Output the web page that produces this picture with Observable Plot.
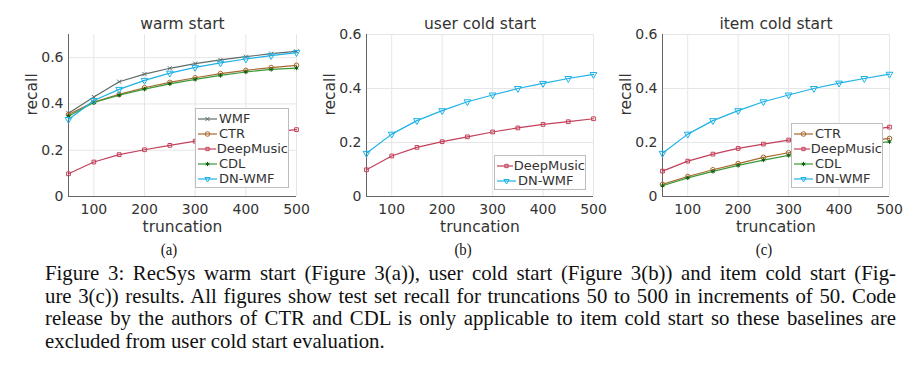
<!DOCTYPE html>
<html><head><meta charset="utf-8">
<script src="https://cdn.jsdelivr.net/npm/d3@7"></script>
<script src="https://cdn.jsdelivr.net/npm/@observablehq/plot@0.6"></script>
<style>
body{margin:0;background:#fff;}
#root{position:relative;width:923px;height:367px;overflow:hidden;background:#fff;}
.panel{position:absolute;top:0;}
.panel svg{overflow:visible;}
.legend{position:absolute;background:#fff;border:1px solid #bdbdbd;box-sizing:border-box;font-family:"DejaVu Sans",sans-serif;font-size:13px;color:#333;padding-top:2px;}
.legend .row{display:flex;align-items:center;height:15px;white-space:nowrap;}
.legend svg{margin-left:1px;margin-right:1px;}
.sub{position:absolute;font-family:"Liberation Serif",serif;font-size:16px;color:#111;transform:translateX(-50%) scaleX(0.92);line-height:14px;}
.cap{position:absolute;left:45px;top:262px;font-family:"Liberation Serif",serif;font-size:21.5px;line-height:22.5px;color:#111;transform-origin:0 0;}
.cap div{text-align:justify;}
.cap div.j{text-align-last:justify;}
</style>
</head><body>
<div id="root"></div>
<script>
const truncation = [50,100,150,200,250,300,350,400,450,500];
const xTicks = [100,200,300,400,500];
const yTicks = [0,0.2,0.4,0.6];

// warm start
const warmWMF       = [0.360,0.430,0.496,0.529,0.554,0.574,0.590,0.604,0.617,0.627];
const warmCTR       = [0.354,0.408,0.441,0.470,0.493,0.513,0.531,0.545,0.557,0.567];
const warmDeepMusic = [0.098,0.149,0.181,0.202,0.221,0.239,0.254,0.267,0.279,0.289];
const warmCDL       = [0.347,0.406,0.438,0.464,0.487,0.506,0.523,0.538,0.549,0.555];
const warmDNWMF     = [0.333,0.415,0.463,0.502,0.533,0.558,0.577,0.594,0.609,0.622];
// user cold start
const userDeepMusic = [0.099,0.150,0.182,0.203,0.221,0.239,0.254,0.267,0.277,0.288];
const userDNWMF     = [0.160,0.231,0.281,0.318,0.351,0.376,0.400,0.419,0.437,0.452];
// item cold start
const itemCTR       = [0.045,0.074,0.099,0.122,0.145,0.162,0.178,0.192,0.203,0.215];
const itemDeepMusic = [0.094,0.131,0.157,0.178,0.194,0.209,0.222,0.234,0.245,0.257];
const itemCDL       = [0.040,0.069,0.093,0.115,0.135,0.152,0.167,0.180,0.191,0.203];
const itemDNWMF     = [0.160,0.231,0.281,0.318,0.351,0.376,0.400,0.420,0.437,0.453];

const titles = ["warm start","user cold start","item cold start"];
const subLabels = ["(a)","(b)","(c)"];

const styles = {
  "WMF":       {stroke:"#5d6b6b", symbol:"times",    mfill:"none", mstroke:"#5d6b6b", r:2.0, rotate:0},
  "CTR":       {stroke:"#a8692f", symbol:"circle",   mfill:"none", mstroke:"#a8692f", r:2.3, rotate:0},
  "DeepMusic": {stroke:"#c2405a", symbol:"square",   mfill:"none", mstroke:"#c2405a", r:2.1, rotate:0},
  "CDL":       {stroke:"#3a9a3a", symbol:"asterisk", mfill:"none", mstroke:"#0b5e0b", r:2.0, rotate:0},
  "DN-WMF":    {stroke:"#1db2e6", symbol:"triangle", mfill:"none", mstroke:"#1db2e6", r:2.5, rotate:180}
};

const panels = [
  {title:titles[0], sub:subLabels[0], left:0,   width:300, ml:68, mr:4,  yMax:0.7,
   series:[["WMF",warmWMF],["CTR",warmCTR],["DeepMusic",warmDeepMusic],["CDL",warmCDL],["DN-WMF",warmDNWMF]],
   legend:{left:195, top:108, width:94, height:80}, subX:169},
  {title:titles[1], sub:subLabels[1], left:300, width:310, ml:66, mr:17, yMax:0.6,
   series:[["DeepMusic",userDeepMusic],["DN-WMF",userDNWMF]],
   legend:{left:494, top:155, width:92, height:35}, subX:463},
  {title:titles[2], sub:subLabels[2], left:610, width:313, ml:52, mr:34, yMax:0.6,
   series:[["CTR",itemCTR],["DeepMusic",itemDeepMusic],["CDL",itemCDL],["DN-WMF",itemDNWMF]],
   legend:{left:791, top:123, width:92, height:65}, subX:764}
];

const root = document.getElementById("root");
const txt = "#333";

for (const p of panels) {
  const marks = [
    Plot.gridX(xTicks, {stroke:"#e6e6e6", strokeOpacity:1}),
    Plot.gridY(yTicks.filter(d=>d>0), {stroke:"#e6e6e6", strokeOpacity:1}),
    Plot.ruleX([50], {stroke:"#666", strokeWidth:1}),
    Plot.ruleY([0], {stroke:"#666", strokeWidth:1}),
    Plot.axisX(xTicks, {tickSize:0, tickPadding:8, fontSize:14, label:null, fill:txt}),
    Plot.axisY(yTicks, {tickSize:0, tickPadding:5, fontSize:14, label:null, fill:txt,
      tickFormat:d=> d===0 ? "0" : d.toFixed(1)}),
    Plot.text([p.title], {text:d=>d, frameAnchor:"top", lineAnchor:"middle", dy:-10, fontSize:15.5, fill:txt}),
    Plot.text(["truncation"], {text:d=>d, frameAnchor:"bottom", lineAnchor:"middle", dy:31, fontSize:15.5, fill:txt}),
    Plot.text(["recall"], {text:d=>d, frameAnchor:"left", dx:-36, rotate:-90, fontSize:15.5, fill:txt})
  ];
  for (const [name, vals] of p.series) {
    const s = styles[name];
    const data = truncation.map((t,i)=>({t, v:vals[i]}));
    marks.push(Plot.line(data, {x:"t", y:"v", stroke:s.stroke, strokeWidth:1.2}));
    marks.push(Plot.dot(data, {x:"t", y:"v", symbol:()=>s.symbol, r:s.r, fill:s.mfill, stroke:s.mstroke, strokeWidth:1, rotate:s.rotate}));
  }
  const chart = Plot.plot({
    width:p.width, height:240, marginLeft:p.ml, marginRight:p.mr, marginTop:34, marginBottom:44,
    style:{background:"transparent", overflow:"visible", fontFamily:"DejaVu Sans, sans-serif", color:txt},
    x:{domain:[50,500], type:"linear"},
    y:{domain:[0,p.yMax], type:"linear"},
    symbol:{type:"identity"},
    marks
  });
  const div = document.createElement("div");
  div.className = "panel";
  div.style.left = p.left + "px";
  div.appendChild(chart);
  root.appendChild(div);

  // legend
  const lg = document.createElement("div");
  lg.className = "legend";
  Object.assign(lg.style, {left:p.legend.left+"px", top:p.legend.top+"px", width:p.legend.width+"px", height:p.legend.height+"px"});
  const symMap = {times:d3.symbolTimes, circle:d3.symbolCircle, square:d3.symbolSquare2, asterisk:d3.symbolAsterisk, triangle:d3.symbolTriangle2};
  for (const [name] of p.series) {
    const s = styles[name];
    const row = document.createElement("div");
    row.className = "row";
    const path = d3.symbol(symMap[s.symbol], s.r*s.r*Math.PI)();
    row.innerHTML = `<svg width="21" height="12"><line x1="1" x2="20" y1="6" y2="6" stroke="${s.stroke}" stroke-width="1.2"/>`+
      `<path d="${path}" transform="translate(10.5,6) rotate(${s.rotate})" fill="${s.mfill}" stroke="${s.mstroke}" stroke-width="1"/></svg><span>${name}</span>`;
    lg.appendChild(row);
  }
  root.appendChild(lg);

  const sub = document.createElement("div");
  sub.className = "sub";
  sub.style.left = p.subX + "px";
  sub.style.top = "243px";
  sub.textContent = p.sub;
  root.appendChild(sub);
}

// caption
const captionLines = [
  "Figure 3: RecSys warm start (Figure 3(a)), user cold start (Figure 3(b)) and item cold start (Fig-",
  "ure 3(c)) results. All figures show test set recall for truncations 50 to 500 in increments of 50. Code",
  "release by the authors of CTR and CDL is only applicable to item cold start so these baselines are",
  "excluded from user cold start evaluation."
];
const canvas = document.createElement("canvas").getContext("2d");
canvas.font = '21.5px "Liberation Serif"';
const maxW = Math.max(...captionLines.map(l=>canvas.measureText(l).width));
const targetW = 851;
const sc = targetW / (maxW * 1.03);
const cap = document.createElement("div");
cap.className = "cap";
cap.style.width = (targetW / sc) + "px";
cap.style.transform = `scaleX(${sc})`;
captionLines.forEach((l,i)=>{
  const d = document.createElement("div");
  if (i < captionLines.length-1) d.className = "j";
  d.textContent = l;
  cap.appendChild(d);
});
root.appendChild(cap);
</script>
</body></html>
